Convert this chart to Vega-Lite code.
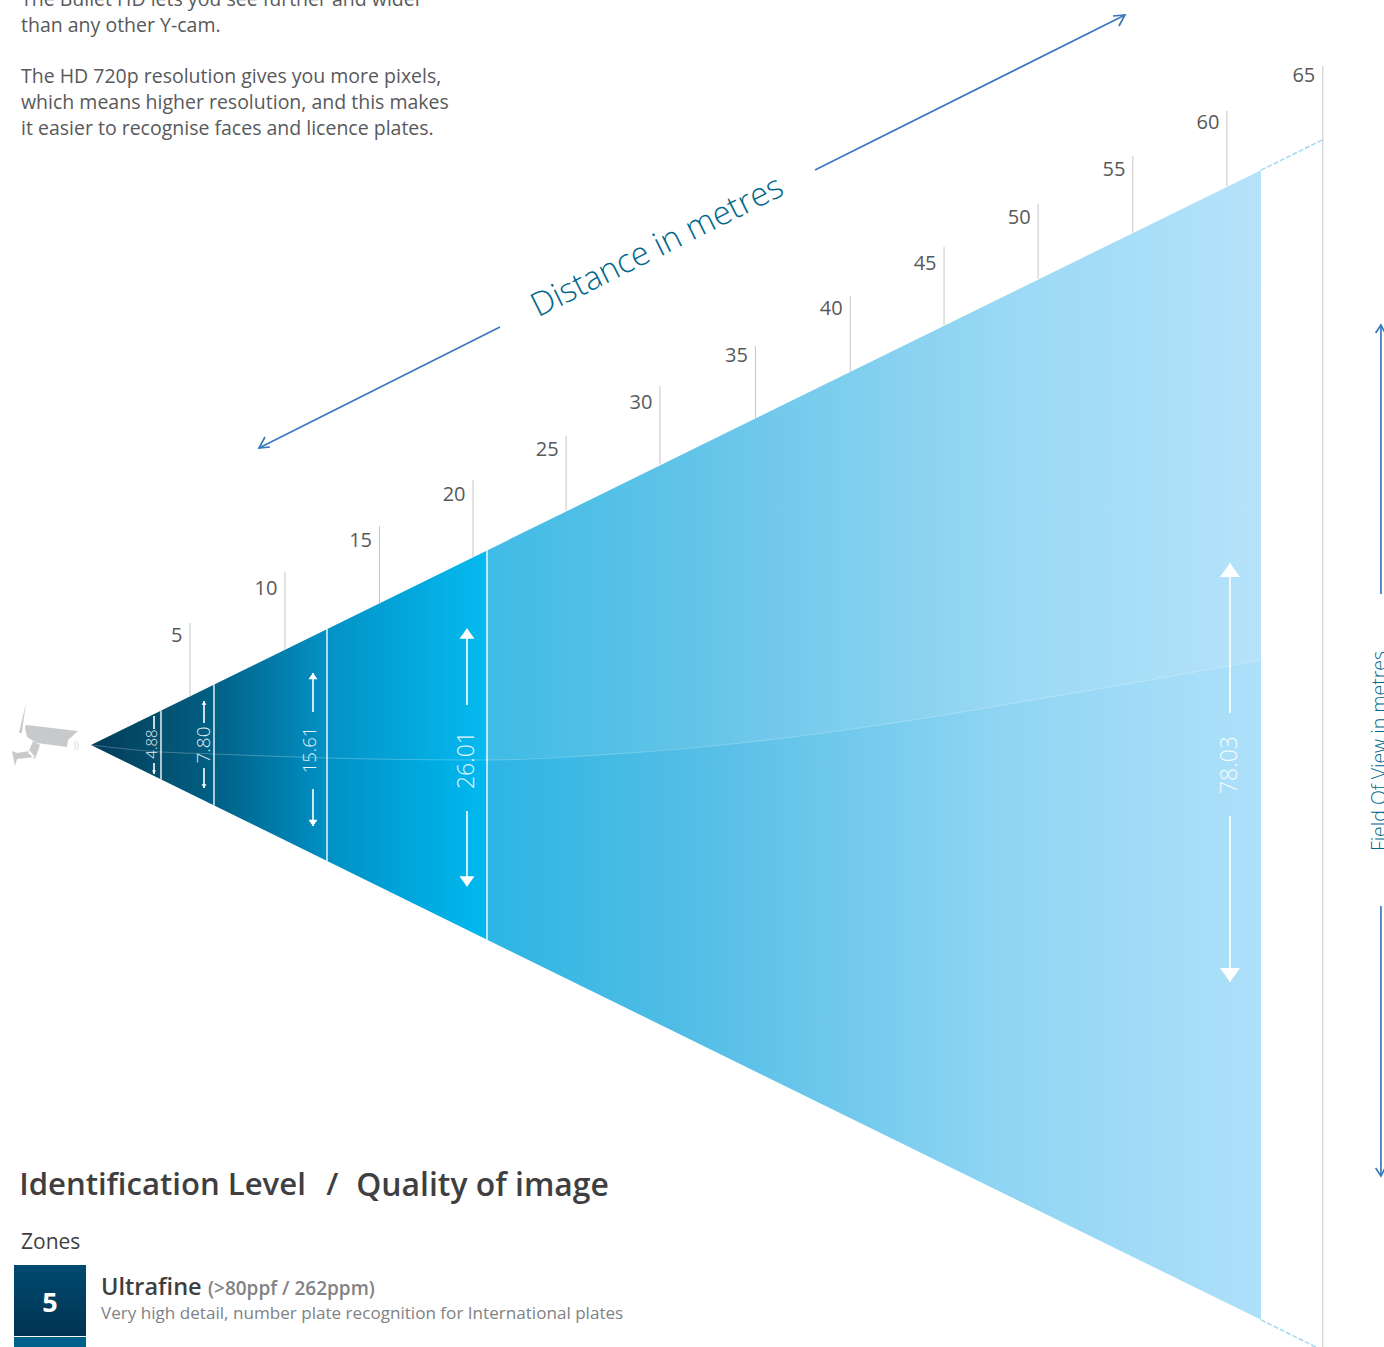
{
"$schema":"https://vega.github.io/schema/vega-lite/v6.json",
"width":1384,"height":1347,"padding":0,"autosize":"none","background":"white",
"config":{"view":{"stroke":null},"font":"Open Sans"},
"resolve":{"scale":{"size":"independent"}},
"encoding":{
"x":{"field":"x","type":"quantitative","axis":null,"scale":{"domain":[-5.0636,68.242],"nice":false,"zero":false}},
"y":{"field":"y","type":"quantitative","axis":null,"scale":{"domain":[-40.841,50.543],"nice":false,"zero":false}}
},
"layer":[
{"data":{"values":[{"x":-0.244,"y":0,"y2":0},{"x":61.727,"y":39,"y2":-39}]},
"mark":{"type":"area","orient":"vertical","color":{"x1":0,"y1":0,"x2":1,"y2":0,"gradient":"linear","stops":[
{"offset":0,"color":"#023b5a"},{"offset":0.06,"color":"#04506f"},{"offset":0.105,"color":"#005f85"},{"offset":0.2,"color":"#0090c4"},{"offset":0.337,"color":"#00b9f0"},{"offset":0.339,"color":"#2cb5e3"},{"offset":0.52,"color":"#55bee6"},{"offset":0.777,"color":"#8fd5f3"},{"offset":1,"color":"#aee0fa"}]}},
"encoding":{"y2":{"field":"y2"}}},
{"data":{"values":[
{"x":-0.244,"y":0,"y2":0},{"x":3.464,"y":2.335,"y2":-0.475},{"x":6.271,"y":4.102,"y2":-0.61},{"x":12.256,"y":7.87,"y2":-0.882},{"x":20.731,"y":13.206,"y2":-1.018},{"x":26.716,"y":16.974,"y2":-0.678},{"x":34.661,"y":21.976,"y2":0.204},{"x":42.606,"y":26.978,"y2":1.56},{"x":50.551,"y":31.981,"y2":3.256},{"x":55.847,"y":35.315,"y2":4.41},{"x":61.727,"y":39,"y2":5.767}]},
"mark":{"type":"area","orient":"vertical","color":{"x1":0,"y1":0,"x2":1,"y2":0,"gradient":"linear","stops":[
{"offset":0,"color":"rgba(255,255,255,0)"},{"offset":0.337,"color":"rgba(255,255,255,0.02)"},{"offset":0.339,"color":"rgba(255,255,255,0.09)"},{"offset":1,"color":"rgba(255,255,255,0.09)"}]}},
"encoding":{"y2":{"field":"y2"}}},
{"data":{"values":[
{"x":-0.244,"y":0},{"x":3.464,"y":-0.475},{"x":6.271,"y":-0.61},{"x":12.256,"y":-0.882},{"x":20.731,"y":-1.018},{"x":26.716,"y":-0.678},{"x":34.661,"y":0.204},{"x":42.606,"y":1.56},{"x":50.551,"y":3.256},{"x":55.847,"y":4.41},{"x":61.727,"y":5.767}]},
"mark":{"type":"line","color":"white","opacity":0.25,"strokeWidth":1,"interpolate":"monotone"}},
{"data":{"values":[
{"x":5,"y":3.302,"y2":8.277},{"x":10.03,"y":6.45,"y2":11.737},{"x":15.04,"y":9.598,"y2":14.857},{"x":19.99,"y":12.746,"y2":17.978},{"x":24.92,"y":15.894,"y2":20.963},{"x":29.89,"y":19.042,"y2":24.355},{"x":34.95,"y":22.19,"y2":27.069},{"x":39.97,"y":25.338,"y2":30.461},{"x":44.94,"y":28.486,"y2":33.786},{"x":49.92,"y":31.634,"y2":36.703},{"x":54.94,"y":34.782,"y2":39.959},{"x":59.92,"y":37.93,"y2":43.012},{"x":65,"y":-40.841,"y2":46.065}]},
"mark":{"type":"rule","color":"#c4c5c6","strokeWidth":1},
"encoding":{"y2":{"field":"y2"}}},
{"data":{"values":[
{"x":5,"y":7.463,"t":"5"},{"x":10.03,"y":10.651,"t":"10"},{"x":15.04,"y":13.908,"t":"15"},{"x":19.99,"y":17.028,"t":"20"},{"x":24.92,"y":20.081,"t":"25"},{"x":29.89,"y":23.27,"t":"30"},{"x":34.95,"y":26.459,"t":"35"},{"x":39.97,"y":29.647,"t":"40"},{"x":44.94,"y":32.7,"t":"45"},{"x":49.92,"y":35.821,"t":"50"},{"x":54.94,"y":39.077,"t":"55"},{"x":59.92,"y":42.266,"t":"60"},{"x":65,"y":45.455,"t":"65"}]},
"mark":{"type":"text","align":"right","baseline":"middle","dx":-7.5,"dy":1,"fontSize":20,"color":"#58595b"},
"encoding":{"text":{"field":"t"}}},
{"data":{"values":[
{"x":3.464,"y":2.335,"y2":-2.335},{"x":6.271,"y":4.102,"y2":-4.102},{"x":12.256,"y":7.87,"y2":-7.87},{"x":20.731,"y":13.206,"y2":-13.206}]},
"mark":{"type":"rule","color":"white","strokeWidth":1.5,"opacity":0.9},
"encoding":{"y2":{"field":"y2"}}},
{"data":{"values":[
{"id":"a","o":0,"x":61.727,"y":39},{"id":"a","o":1,"x":64.97,"y":41.045},
{"id":"b","o":0,"x":61.727,"y":-39},{"id":"b","o":1,"x":64.63,"y":-40.841}]},
"mark":{"type":"line","color":"#9fd9f6","strokeWidth":1.5,"strokeDash":[5,2]},
"encoding":{"detail":{"field":"id"},"order":{"field":"o"}}},
{"data":{"values":[
{"x":3.093,"y":1.967,"y2":1.085},{"x":3.093,"y":-1.221,"y2":-1.967},
{"x":5.742,"y":2.985,"y2":1.493},{"x":5.742,"y":-1.56,"y2":-2.917},
{"x":11.515,"y":4.885,"y2":2.239},{"x":11.515,"y":-2.985,"y2":-5.495},
{"x":19.672,"y":7.87,"y2":2.714},{"x":19.672,"y":-4.478,"y2":-9.566},
{"x":60.085,"y":12.347,"y2":2.171},{"x":60.085,"y":-4.817,"y2":-16.079}]},
"mark":{"type":"rule","color":"white","strokeWidth":1.6},
"encoding":{"y2":{"field":"y2"}}},
{"data":{"values":[
{"x":3.093,"y":-1.832,"n":"4.88","dir":"down"},
{"x":5.742,"y":2.849,"n":"7.80","dir":"up"},{"x":5.742,"y":-2.782,"n":"7.80","dir":"down"},
{"x":11.515,"y":4.681,"n":"15.61","dir":"up"},{"x":11.515,"y":-5.292,"n":"15.61","dir":"down"},
{"x":19.672,"y":7.564,"n":"26.01","dir":"up"},{"x":19.672,"y":-9.26,"n":"26.01","dir":"down"},
{"x":60.085,"y":11.872,"n":"78.03","dir":"up"},{"x":60.085,"y":-15.604,"n":"78.03","dir":"down"}]},
"mark":{"type":"point","filled":true,"color":"white","opacity":1},
"encoding":{
"shape":{"field":"dir","type":"nominal","legend":null,"scale":{"domain":["up","down"],"range":["M0,-0.7L1,0.7L-1,0.7Z","M0,0.7L1,-0.7L-1,-0.7Z"]}},
"size":{"field":"n","type":"ordinal","legend":null,"scale":{"type":"ordinal","domain":["4.88","7.80","15.61","26.01","78.03"],"range":[16,25,81,225,400]}}}},
{"data":{"values":[
{"x":2.934,"y":0.068,"t":"4.88"},{"x":5.689,"y":0,"t":"7.80"},{"x":11.303,"y":-0.339,"t":"15.61"},{"x":19.619,"y":-1.018,"t":"26.01"},{"x":60.032,"y":-1.357,"t":"78.03"}]},
"mark":{"type":"text","angle":270,"align":"center","baseline":"middle","dy":1,"color":"white","fontWeight":300,"opacity":0.9},
"encoding":{"text":{"field":"t"},
"size":{"field":"t","type":"ordinal","legend":null,"scale":{"type":"ordinal","domain":["4.88","7.80","15.61","26.01","78.03"],"range":[15,19,18.5,23,23]}}}},
{"data":{"values":[
{"id":"d1","o":0,"x":38.104,"y":39.009},{"id":"d1","o":1,"x":54.523,"y":49.525},
{"id":"d1h","o":0,"x":53.887,"y":49.457},{"id":"d1h","o":1,"x":54.523,"y":49.525},{"id":"d1h","o":2,"x":54.205,"y":48.779},
{"id":"d2","o":0,"x":21.419,"y":28.358},{"id":"d2","o":1,"x":8.655,"y":20.149},
{"id":"d2h","o":0,"x":9.237,"y":20.217},{"id":"d2h","o":1,"x":8.655,"y":20.149},{"id":"d2h","o":2,"x":8.972,"y":20.896},
{"id":"f1","o":0,"x":68.08,"y":28.426},{"id":"f1","o":1,"x":68.08,"y":10.244},
{"id":"f1h","o":0,"x":67.8,"y":27.95},{"id":"f1h","o":1,"x":68.08,"y":28.5},{"id":"f1h","o":2,"x":68.3,"y":27.95},
{"id":"f2","o":0,"x":68.08,"y":-10.923},{"id":"f2","o":1,"x":68.08,"y":-29.172},
{"id":"f2h","o":0,"x":67.8,"y":-28.7},{"id":"f2h","o":1,"x":68.08,"y":-29.25},{"id":"f2h","o":2,"x":68.3,"y":-28.7}]},
"mark":{"type":"line","color":"#3a78bd","strokeWidth":1.7},
"encoding":{"detail":{"field":"id"},"order":{"field":"o"}}},
{"data":{"values":[{"x":29.735,"y":33.853,"t":"Distance in metres"}]},
"mark":{"type":"text","angle":-26.5,"align":"center","baseline":"middle","dy":1,"fontSize":33,"fontWeight":300,"color":"#00678a"},
"encoding":{"text":{"field":"t"}}},
{"data":{"values":[{"x":68.03,"y":-0.407,"t":"Field Of View in metres"}]},
"mark":{"type":"text","angle":270,"align":"center","baseline":"middle","fontSize":19.5,"fontWeight":300,"color":"#00678a"},
"encoding":{"text":{"field":"t"}}},
{"data":{"values":[
{"x":-3.951,"y":50.61,"t":"The Bullet HD lets you see further and wider"},
{"x":-3.951,"y":48.847,"t":"than any other Y-cam."},
{"x":-3.951,"y":45.387,"t":"The HD 720p resolution gives you more pixels,"},
{"x":-3.951,"y":43.623,"t":"which means higher resolution, and this makes"},
{"x":-3.951,"y":41.859,"t":"it easier to recognise faces and licence plates."}]},
"mark":{"type":"text","align":"left","baseline":"middle","dy":1,"fontSize":19.5,"color":"#58595b"},
"encoding":{"text":{"field":"t"}}},
{"data":{"values":[{"x":-2.68,"y":0.678}]},
"mark":{"type":"point","filled":true,"size":6400,"opacity":1,"color":"#c8c9cb","shape":"M-0.475,-0.25L0.825,-0.1L0.575,0.125L0.55,0.3L-0.2,0.2L-0.45,0.05L-0.5,-0.175Z M-0.475,-0.8L-0.65,-0.05L-0.58,-0.05Z M-0.3,0.15L-0.125,0.25L-0.25,0.6L-0.42,0.45Z M-0.825,0.4L-0.75,0.775L-0.7,0.6L-0.25,0.55L-0.375,0.4L-0.7,0.45Z"}},
{"data":{"values":[{"x":-2.68,"y":0.678}]},
"mark":{"type":"point","filled":false,"size":6400,"opacity":1,"strokeWidth":0.7,"color":"#c8c9cb","shape":"M0.72,0.17Q0.8,0.27,0.74,0.37 M0.78,0.15Q0.87,0.27,0.8,0.39"}},
{"data":{"values":[{"x":-4.322,"x2":-0.508,"y":-35.278,"y2":-40.095}]},
"mark":{"type":"rect","color":{"x1":0,"y1":0,"x2":0,"y2":1,"gradient":"linear","stops":[{"offset":0,"color":"#004a70"},{"offset":1,"color":"#003352"}]}},
"encoding":{"x2":{"field":"x2"},"y2":{"field":"y2"}}},
{"data":{"values":[{"x":-4.322,"x2":-0.508,"y":-40.163,"y2":-40.841}]},
"mark":{"type":"rect","color":"#00608a"},
"encoding":{"x2":{"field":"x2"},"y2":{"field":"y2"}}},
{"data":{"values":[{"x":-4.05,"y":-29.851,"t":"Identification Level"}]},
"mark":{"type":"text","align":"left","baseline":"middle","dy":1,"fontSize":31.1,"fontWeight":600,"color":"#3f3f41"},
"encoding":{"text":{"field":"t"}}},
{"data":{"values":[{"x":12.22,"y":-29.851,"t":"/"}]},
"mark":{"type":"text","align":"left","baseline":"middle","dy":1,"fontSize":31,"fontWeight":600,"color":"#3f3f41"},
"encoding":{"text":{"field":"t"}}},
{"data":{"values":[{"x":13.8,"y":-29.851,"t":"Quality of image"}]},
"mark":{"type":"text","align":"left","baseline":"middle","dy":1,"fontSize":31.9,"fontWeight":600,"color":"#3f3f41"},
"encoding":{"text":{"field":"t"}}},
{"data":{"values":[{"x":-3.951,"y":-33.718,"t":"Zones"}]},
"mark":{"type":"text","align":"left","baseline":"middle","dy":1,"fontSize":21,"color":"#3f3f41"},
"encoding":{"text":{"field":"t"}}},
{"data":{"values":[{"x":-2.415,"y":-37.856,"t":"5"}]},
"mark":{"type":"text","align":"center","baseline":"middle","dy":1,"fontSize":27,"fontWeight":"bold","color":"white"},
"encoding":{"text":{"field":"t"}}},
{"data":{"values":[{"x":0.286,"y":-36.771,"t":"Ultrafine"}]},
"mark":{"type":"text","align":"left","baseline":"middle","dy":1,"fontSize":23.5,"fontWeight":600,"color":"#3f3f41"},
"encoding":{"text":{"field":"t"}}},
{"data":{"values":[{"x":5.953,"y":-36.839,"t":"(>80ppf / 262ppm)"}]},
"mark":{"type":"text","align":"left","baseline":"middle","dy":1,"fontSize":19,"fontWeight":600,"color":"#808285"},
"encoding":{"text":{"field":"t"}}},
{"data":{"values":[{"x":0.286,"y":-38.535,"t":"Very high detail, number plate recognition for International plates"}]},
"mark":{"type":"text","align":"left","baseline":"middle","dy":1,"fontSize":17.1,"color":"#808285"},
"encoding":{"text":{"field":"t"}}}
]
}
